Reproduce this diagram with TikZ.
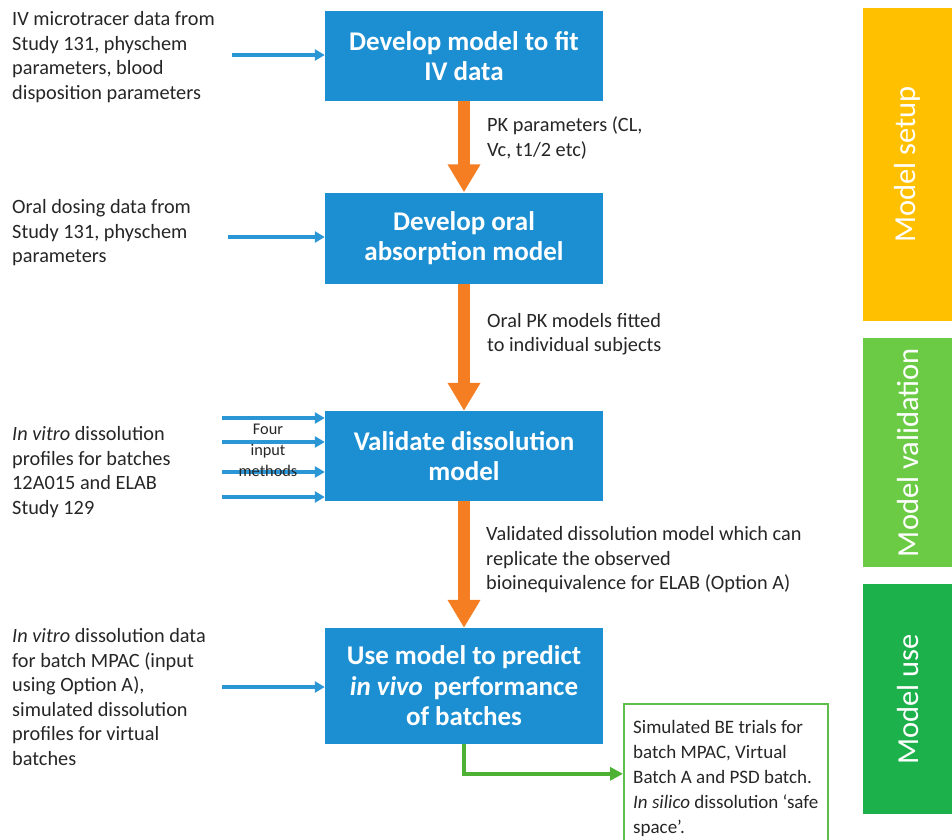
\documentclass[tikz,border=0pt]{standalone}
\usepackage{fontspec}
\setmainfont{Carlito}
\usetikzlibrary{arrows.meta}
\definecolor{boxblue}{HTML}{1C8FD3}
\definecolor{arrblue}{HTML}{2A96D6}
\definecolor{orng}{HTML}{F57E22}
\definecolor{ylw}{HTML}{FFC000}
\definecolor{lgrn}{HTML}{6CCB45}
\definecolor{dgrn}{HTML}{1DB14B}
\definecolor{garr}{HTML}{4DB234}
\definecolor{gbox}{HTML}{5DBF4A}
\tikzset{
  x=1pt, y=-1pt,
  stepbox/.style={fill=boxblue, text=white, minimum width=278pt, inner sep=0pt,
    align=center, font=\fontsize{27}{30.5}\selectfont\bfseries},
  txt/.style={align=left, inner sep=0pt, anchor=west, text=black!85,
    font=\fontsize{20.3}{24.5}\selectfont},
  gtxt/.style={align=left, inner sep=0pt, anchor=west, text=black!85,
    font=\fontsize{19}{25}\selectfont},
  small/.style={align=center, inner sep=0pt, text=black!85,
    font=\fontsize{16.3}{21}\selectfont},
  inarrow/.style={draw=arrblue, line width=3.4pt, -{Triangle[length=10pt,width=11pt]}},
  bigarrow/.style={draw=orng, line width=12pt, -{Triangle[length=28pt,width=31pt]}},
  bar/.style={minimum width=89pt, inner sep=0pt, anchor=north west},
  bartxt/.style={rotate=90, text=white, font=\fontsize{30.5}{34}\selectfont},
}
\begin{document}
\begin{tikzpicture}
\useasboundingbox (0,0) rectangle (952,839);
% boxes
\node[stepbox, minimum height=90pt] (b1) at (464,56) {Develop model to fit\\IV data};
\node[stepbox, minimum height=91pt] (b2) at (464,238) {Develop oral\\absorption model};
\node[stepbox, minimum height=90pt] (b3) at (464,456) {Validate dissolution\\model};
\node[stepbox, minimum height=116pt] (b4) at (464,686) {Use model to predict\\\textit{in vivo}\, performance\\of batches};
\node[draw=gbox, line width=1.6pt, minimum width=204pt, minimum height=140pt, anchor=north west, inner sep=0pt] (gb) at (623,703) {};
\node[gtxt] (gt) at (633,778) {Simulated BE trials for\\batch MPAC, Virtual\\Batch A and PSD batch.\\\textit{In silico} dissolution `safe\\space'.};
% side bars
\node[bar, fill=ylw, minimum height=313pt] (s1) at (863,8) {};
\node[bartxt] (s1t) at (s1.center) {Model setup};
\node[bar, fill=lgrn, minimum height=229pt] (s2) at (863,338) {};
\node[bartxt] (s2t) at (s2.center) {Model validation};
\node[bar, fill=dgrn, minimum height=230pt] (s3) at (863,584) {};
\node[bartxt] (s3t) at (s3.center) {Model use};
% left texts
\node[txt] (l1) at (12,57) {IV microtracer data from\\Study 131, physchem\\parameters, blood\\disposition parameters};
\node[txt] (l2) at (12,233) {Oral dosing data from\\Study 131, physchem\\parameters};
\node[txt] (l3) at (12,472) {\textit{In vitro} dissolution\\profiles for batches\\12A015 and ELAB\\Study 129};
\node[txt] (l4) at (12,697) {\textit{In vitro} dissolution data\\for batch MPAC (input\\using Option A),\\simulated dissolution\\profiles for virtual\\batches};
% labels
\node[txt] (k1) at (487,138) {PK parameters (CL,\\Vc, t1/2 etc)};
\node[txt] (k2) at (487,334) {Oral PK models fitted\\to individual subjects};
\node[txt] (k3) at (486,560) {Validated dissolution model which can\\replicate the observed\\bioinequivalence for ELAB (Option A)};
% input arrow starts
\coordinate (i1) at (232,55);
\coordinate (i2) at (228,237);
\coordinate (i3a) at (222,418);
\coordinate (i3b) at (222,442);
\coordinate (i3c) at (222,472);
\coordinate (i3d) at (222,497);
\coordinate (i4) at (222,687);
\draw[inarrow] (i1) -- (i1 -| b1.west);
\draw[inarrow] (i2) -- (i2 -| b2.west);
\draw[inarrow] (i3a) -- (i3a -| b3.west);
\draw[inarrow] (i3b) -- (i3b -| b3.west);
\draw[inarrow] (i3c) -- (i3c -| b3.west);
\draw[inarrow] (i3d) -- (i3d -| b3.west);
\draw[inarrow] (i4) -- (i4 -| b4.west);
\node[small] (four) at (268,450) {Four\\input\\methods};
% orange arrows
\draw[bigarrow] (b1.south) -- (b2.north);
\draw[bigarrow] (b2.south) -- (b3.north);
\draw[bigarrow] (b3.south) -- (b4.north);
% green connector
\draw[draw=garr, line width=4pt, -{Triangle[length=13pt,width=13pt]}] (b4.south) |- (gb.west);
\end{tikzpicture}
\end{document}
